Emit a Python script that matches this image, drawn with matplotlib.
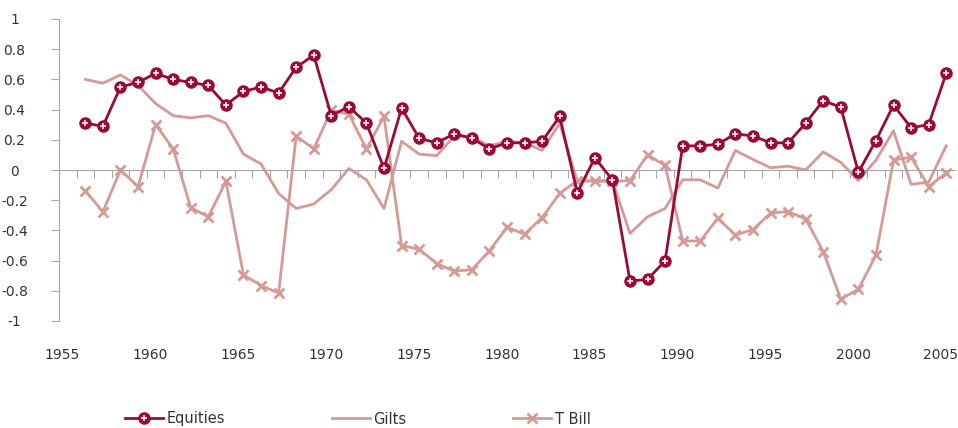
import numpy as np
import matplotlib
matplotlib.use("Agg")
import matplotlib.pyplot as plt

# yearly values
years = list(range(1956, 2006))

equities = [0.31, 0.29, 0.55, 0.58, 0.64, 0.60, 0.58, 0.56, 0.43, 0.52,
            0.55, 0.51, 0.68, 0.76, 0.36, 0.42, 0.31, 0.01, 0.41, 0.21,
            0.18, 0.24, 0.21, 0.14, 0.18, 0.18, 0.19, 0.355, -0.15, 0.08,
            -0.065, -0.735, -0.725, -0.60, 0.16, 0.16, 0.17, 0.24, 0.225, 0.18,
            0.18, 0.31, 0.46, 0.415, -0.015, 0.195, 0.43, 0.28, 0.30, 0.64]

gilts = [0.60, 0.575, 0.63, 0.56, 0.44, 0.36, 0.345, 0.36, 0.31, 0.105,
         0.04, -0.155, -0.255, -0.225, -0.13, 0.01, -0.065, -0.255, 0.19, 0.105,
         0.095, 0.225, 0.22, 0.16, 0.19, 0.18, 0.13, 0.31, -0.075, -0.07,
         -0.07, -0.42, -0.31, -0.255, -0.065, -0.065, -0.12, 0.13, 0.07, 0.015,
         0.025, 0.0, 0.12, 0.05, -0.07, 0.065, 0.26, -0.095, -0.08, 0.16]

tbill = [-0.14, -0.275, 0.0, -0.11, 0.30, 0.14, -0.25, -0.31, -0.075, -0.695,
         -0.765, -0.815, 0.225, 0.14, 0.395, 0.37, 0.14, 0.355, -0.50, -0.525,
         -0.62, -0.67, -0.66, -0.535, -0.38, -0.425, -0.315, -0.155, -0.07, -0.075,
         -0.075, -0.07, 0.10, 0.03, -0.47, -0.47, -0.32, -0.43, -0.395, -0.285,
         -0.275, -0.325, -0.54, -0.855, -0.79, -0.565, 0.065, 0.085, -0.11, -0.02]

label_years = [1955, 1960, 1965, 1970, 1975, 1980, 1985, 1990, 1995, 2000, 2005]
y_ticks = [1, 0.8, 0.6, 0.4, 0.2, 0, -0.2, -0.4, -0.6, -0.8, -1]

dark = "#9a0a36"
light = "#d69a96"
grey = "#a6a6a6"
txt = "#333333"

fig = plt.figure(figsize=(9.58, 4.28), dpi=100)
ax = fig.add_axes([59/958, 1-321/428, (955-59)/958, (321-19)/428])

l2, = ax.plot(years, gilts, color=light, linewidth=2, label="Gilts", zorder=2)
l3, = ax.plot(years, tbill, color=light, linewidth=2, marker="x", markersize=7.5,
              markeredgewidth=2, label="T Bill", zorder=2)
l1, = ax.plot(years, equities, color=dark, linewidth=2, marker="o", markersize=8,
              markeredgecolor=dark, label="Equities", zorder=3)
l1p, = ax.plot(years, equities, linestyle="none", marker="+", markersize=4.5,
               markeredgewidth=1.1, color="white", zorder=4)

ax.set_xlim(1954.5, 2005.5)
ax.set_ylim(-1, 1)

# spines
for s in ["top", "right"]:
    ax.spines[s].set_visible(False)
ax.spines["left"].set_color(grey)
ax.spines["bottom"].set_position(("data", 0))
ax.spines["bottom"].set_color(grey)

# x ticks at category boundaries on the zero line, year labels further down
ax.set_xticks(np.arange(1955.5, 2005.5, 1))
ax.tick_params(axis="x", direction="out", length=6, color=grey, labelbottom=False)
for yr in label_years:
    ax.text(yr - 0.3, -0.113, str(yr), transform=ax.get_xaxis_transform(),
            ha="center", va="center", fontsize=10, color=txt)

ax.set_yticks(y_ticks)
ax.set_yticklabels([f"{v:g}" for v in y_ticks])
ax.tick_params(axis="y", direction="out", length=6, color=grey,
               labelsize=10, labelcolor=txt, pad=26)
for lab in ax.get_yticklabels():
    lab.set_ha("center")

fig.legend([(l1, l1p), l2, l3], ["Equities", "Gilts", "T Bill"],
           loc="center", bbox_to_anchor=(358/958, 1-419/428), ncol=3,
           frameon=False, fontsize=10.5, handlelength=2.6, handletextpad=0.25,
           columnspacing=7.3, labelcolor=txt)

fig.savefig("out.png", dpi=100)
